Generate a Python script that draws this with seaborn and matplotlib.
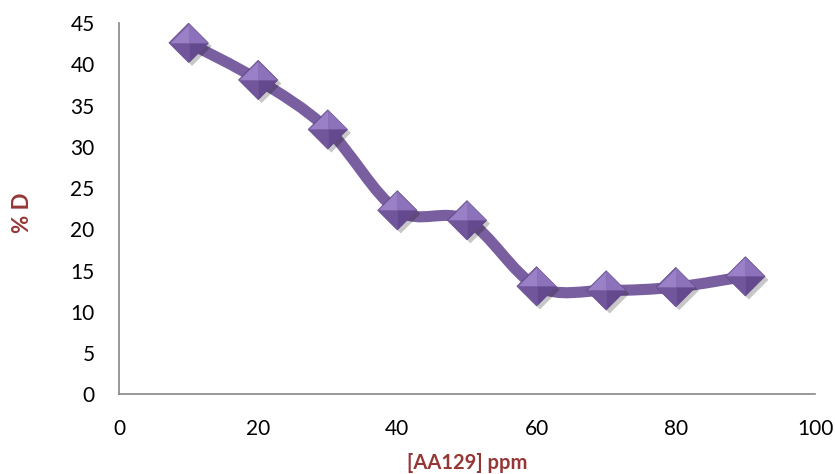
import numpy as np
import matplotlib
matplotlib.use("Agg")
import matplotlib.pyplot as plt
from matplotlib.path import Path
from matplotlib.patches import PathPatch
import matplotlib.patheffects as pe
import seaborn as sns
import pandas as pd

# ---- data ----
conc_ppm = [10, 20, 30, 40, 50, 60, 70, 80, 90]
pct_d = [42.6, 38.1, 32.1, 22.3, 21.1, 13.1, 12.6, 13.0, 14.3]
x_ticks = [0, 20, 40, 60, 80, 100]
y_ticks = [0, 5, 10, 15, 20, 25, 30, 35, 40, 45]
x_label = "[AA129] ppm"
y_label = "% D"

df = pd.DataFrame({"conc": conc_ppm, "D": pct_d})

sns.set_theme(style="white")
plt.rcParams["font.family"] = ["Lato", "DejaVu Sans"]

fig = plt.figure(figsize=(8.35, 4.74), dpi=100)
ax = fig.add_axes([0.1425, 0.168, 0.976 - 0.1425, 0.9515 - 0.168])

line_color = "#7a5fa0"

# smoothed line (Bezier path through the data points, like Excel smooth lines)
pts = np.column_stack([df["conc"].to_numpy(float), df["D"].to_numpy(float)])
verts = [tuple(pts[0])]
codes = [Path.MOVETO]
n = len(pts)
for i in range(n - 1):
    p0 = pts[i - 1] if i > 0 else pts[i]
    p1 = pts[i]
    p2 = pts[i + 1]
    p3 = pts[i + 2] if i + 2 < n else pts[i + 1]
    c1 = p1 + (p2 - p0) / 6.0
    c2 = p2 - (p3 - p1) / 6.0
    verts += [tuple(c1), tuple(c2), tuple(p2)]
    codes += [Path.CURVE4] * 3
curve = PathPatch(Path(verts, codes), facecolor="none", edgecolor=line_color,
                  lw=8, capstyle="round", joinstyle="round",
                  transform=ax.transData, zorder=2)
ax.add_patch(curve)

# diamond markers with bevelled faces
ms = 800
diamond = Path([(-1, 0), (0, 1), (1, 0), (0, -1), (-1, 0)],
               [Path.MOVETO, Path.LINETO, Path.LINETO, Path.LINETO, Path.CLOSEPOLY])
faces = [
    ([(0, 0), (-1, 0), (0, 1), (0, 0)], "#9a80c6"),
    ([(0, 0), (0, 1), (1, 0), (0, 0)], "#8c71bb"),
    ([(0, 0), (1, 0), (0, -1), (0, 0)], "#64498e"),
    ([(0, 0), (0, -1), (-1, 0), (0, 0)], "#71569b"),
]
sns.scatterplot(data=df, x="conc", y="D", ax=ax, marker=diamond, s=ms,
                color="#7a5fa6", edgecolor="#5f4886", linewidth=0.5, zorder=3,
                legend=False,
                path_effects=[pe.SimplePatchShadow(offset=(2.5, -2.5), shadow_rgbFace="#000000", alpha=0.22),
                              pe.Normal()])
for fverts, fcol in faces:
    fpath = Path(fverts, [Path.MOVETO, Path.LINETO, Path.LINETO, Path.CLOSEPOLY])
    sns.scatterplot(data=df, x="conc", y="D", ax=ax, marker=fpath, s=ms * 0.94,
                    color=fcol, linewidth=0, zorder=4, legend=False)

# axes styling
ax.set_xlim(0, 100)
ax.set_ylim(0, 45)
ax.set_xticks(x_ticks)
ax.set_yticks(y_ticks)
ax.tick_params(axis="both", labelsize=15, colors="#000000", length=5.5, width=1.2,
               direction="out", color="#868686")
ax.tick_params(axis="x", pad=12)
ax.tick_params(axis="y", pad=12)
for side in ["top", "right"]:
    ax.spines[side].set_visible(False)
for side in ["left", "bottom"]:
    ax.spines[side].set_color("#868686")
    ax.spines[side].set_linewidth(1.2)
ax.grid(False)

ax.set_xlabel(x_label, fontsize=14.5, fontweight="bold", color="#953735", labelpad=10)
ax.set_ylabel(y_label, fontsize=16, fontweight="bold", color="#953735")
ax.yaxis.set_label_coords(-0.124, 0.49)

fig.savefig("out.png", dpi=100)
